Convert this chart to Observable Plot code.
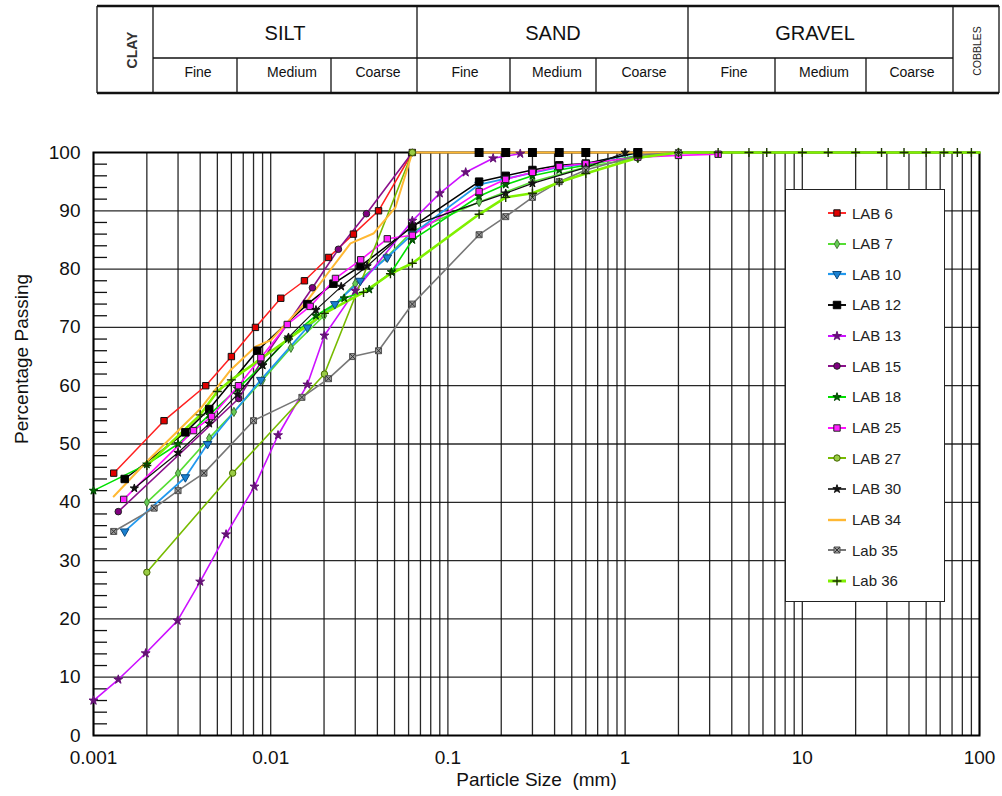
<!DOCTYPE html>
<html><head><meta charset="utf-8">
<script src="https://cdn.jsdelivr.net/npm/d3@7"></script>
<script src="https://cdn.jsdelivr.net/npm/@observablehq/plot@0.6"></script>
<style>
body{margin:0;background:#fff;font-family:"Liberation Sans",Arial,sans-serif;}
#wrap{position:relative;width:1002px;height:796px;overflow:hidden;background:#fff;}
#header{position:absolute;left:0;top:0;width:1002px;height:100px;}
#chart{position:absolute;left:0;top:100px;}
#legend{position:absolute;left:785px;top:189px;width:160px;height:413px;border:1px solid #222;background:#fff;box-sizing:border-box;}
.item{position:absolute;left:0;height:20px;display:flex;align-items:center;font-size:15px;color:#222;}
</style></head>
<body><div id="wrap"><div id="header"></div><div id="chart"></div><div id="legend"></div></div>
<script>
// ---------- data ----------
const seriesNames = ["LAB 6","LAB 7","LAB 10","LAB 12","LAB 13","LAB 15","LAB 18","LAB 25","LAB 27","LAB 30","LAB 34","Lab 35","Lab 36"];

const lab6X = [0.0013,0.0025,0.0043,0.006,0.0082,0.0114,0.0155,0.0212,0.0293,0.0406,0.063];
const lab6Y = [45,54,60,65,70,75,78,82,86,90,100];

const lab7X = [0.002,0.003,0.0045,0.0062,0.009,0.013,0.02,0.03,0.045,0.063,0.15,0.3,0.6,1.18,2];
const lab7Y = [40,45,51,55.5,61,66.5,72,77.5,82,86.5,91.5,95,97.5,99,100];

const lab10X = [0.0015,0.0033,0.0044,0.0088,0.0161,0.023,0.032,0.0455,0.063,0.15,0.212,0.3,0.425,0.6,1.18];
const lab10Y = [35,44.3,50,61,70,74,78,82,86,94.5,95.5,96.5,97.5,98,100];

const lab12X = [0.0015,0.0033,0.0045,0.0084,0.0161,0.0226,0.0321,0.063,0.15,0.212,0.3,0.425,0.6,1.18];
const lab12Y = [44,52,56,66,74,77.5,80.5,87.3,95,96,97,97.8,98.1,100];

const lab13X = [0.001,0.00138,0.00197,0.00298,0.004,0.0056,0.0081,0.011,0.0161,0.0201,0.03,0.063,0.09,0.126,0.18,0.256];
const lab13Y = [6,9.6,14.1,19.7,26.4,34.5,42.7,51.5,60.2,68.6,76.3,88.3,93,96.6,99,99.8];

const lab15X = [0.00138,0.0066,0.0088,0.0172,0.0241,0.0347,0.063];
const lab15Y = [38.4,57.8,64,76.8,83.4,89.5,100];

const lab18X = [0.001,0.002,0.003,0.0045,0.0065,0.009,0.0125,0.018,0.026,0.036,0.048,0.063,0.15,0.212,0.3,0.425,0.6,1.18];
const lab18Y = [42,46.5,50,55,59.5,63.5,68,72,75,76.5,79.5,85,92.5,94.5,96,97,97.8,99.5];

const lab25X = [0.00148,0.00367,0.00464,0.00658,0.0088,0.0124,0.0167,0.0232,0.0322,0.0455,0.063,0.15,0.212,0.3,0.425,0.6,1.18,2,3.35];
const lab25Y = [40.5,52.3,54.7,60,64.8,70.5,73.6,78.4,81.6,85.2,85.8,93.3,95.4,96.6,97.6,98.1,99.2,99.5,99.7];

const lab27X = [0.002,0.0061,0.0201,0.063];
const lab27Y = [28,45,62,100];

const lab30X = [0.0017,0.003,0.0045,0.0065,0.009,0.0126,0.018,0.025,0.035,0.063,0.212,0.3,0.6,1.0];
const lab30Y = [42.4,48.5,53.5,58.5,63.5,68.3,73,77,80.5,87.5,93,94.7,97.4,100];

const lab34X = [0.0013,0.002,0.004,0.0059,0.0082,0.01,0.0161,0.0209,0.0282,0.038,0.0506,0.063,2];
const lab34Y = [41,47,56,62.6,66.7,67.8,74.6,79.2,84.4,86.1,90.6,100,100];
const lab34SieveX = [0.15,0.212,0.3,0.425,0.6,1.18];
const lab34SieveY = [100,100,100,100,100,100];

const lab35X = [0.0013,0.0022,0.003,0.0042,0.008,0.015,0.0212,0.029,0.0406,0.063,0.15,0.212,0.3,0.425,0.6,1.18,2];
const lab35Y = [35,39,42,45,54,58,61.2,65,66,74,85.9,89,92.3,95,97,99.5,100];

const lab36X = [0.002,0.004,0.005,0.006,0.0126,0.0201,0.0334,0.0474,0.063,0.15,0.212,0.3,0.425,0.6,1.18,2,3.35,5,6.3,10,14,20,28,37.5,50,63,75,90,100];
const lab36Y = [46.3,55,59,61,68,72.4,76,79.2,81,89.4,92.3,93,94.9,96.4,99.1,100,100,100,100,100,100,100,100,100,100,100,100,100,100];

const xTickLabels = [0.001,0.01,0.1,1,10,100];
const yTickLabels = [0,10,20,30,40,50,60,70,80,90,100];
const yMinorTicks = d3.range(2,100,2).filter(v => v % 10 !== 0);
const xGrid = [];
for (let k = -3; k <= 1; k++) for (let m = 1; m <= 9; m++) xGrid.push(+(m * Math.pow(10, k)).toPrecision(3));
xGrid.push(100);

const seriesX = [lab6X,lab7X,lab10X,lab12X,lab13X,lab15X,lab18X,lab25X,lab27X,lab30X,lab34X,lab35X,lab36X];
const seriesY = [lab6Y,lab7Y,lab10Y,lab12Y,lab13Y,lab15Y,lab18Y,lab25Y,lab27Y,lab30Y,lab34Y,lab35Y,lab36Y];

// ---------- styles ----------
const styles = {
  "LAB 6":  {line:"#ff2020", w:1.5, symbol:"square",   fill:"#e00000", mstroke:"#111", r:3.6},
  "LAB 7":  {line:"#55dd33", w:1.6, symbol:"diamond",  fill:"#66cc55", mstroke:"#447733", r:2.8},
  "LAB 10": {line:"#2299ee", w:1.8, symbol:"triangle", fill:"#1a80d0", mstroke:"#0a4a80", r:3.2, rotate:180},
  "LAB 12": {line:"#000000", w:1.5, symbol:"square",   fill:"#000000", mstroke:"#000", r:4.2},
  "LAB 13": {line:"#cc11ff", w:1.6, symbol:"star",     fill:"#661177", mstroke:"#661177", r:2.8},
  "LAB 15": {line:"#8b108b", w:1.6, symbol:"circle",   fill:"#800080", mstroke:"#222", r:3.3},
  "LAB 18": {line:"#00e000", w:1.6, symbol:"star",     fill:"#006600", mstroke:"#004400", r:2.6},
  "LAB 25": {line:"#ff11ff", w:1.6, symbol:"square",   fill:"#ff22ff", mstroke:"#222", r:3.6},
  "LAB 27": {line:"#77bb00", w:1.6, symbol:"circle",   fill:"#99cc44", mstroke:"#446600", r:3.2},
  "LAB 30": {line:"#111111", w:1.2, symbol:"star",     fill:"#111111", mstroke:"#111", r:2.6},
  "LAB 34": {line:"#ffb833", w:2, symbol:null},
  "Lab 35": {line:"#777777", w:1.6, symbol:"square",   fill:"#999999", mstroke:"#555", r:3.4, times:true},
  "Lab 36": {line:"#80f000", w:2.6, symbol:"plus",     fill:"none",    mstroke:"#1a3300", r:3}
};

// ---------- header ----------
(function header(){
  const svg = d3.select("#header").append("svg").attr("width",1002).attr("height",100)
    .style("font-family",'"Liberation Sans",Arial,sans-serif');
  const L = 97, R = 999, T = 6, B = 93, M = 58;
  const g = svg.append("g").attr("stroke","#111").attr("fill","none");
  g.append("line").attr("x1",L).attr("x2",R).attr("y1",T).attr("y2",T).attr("stroke-width",2.5);
  g.append("line").attr("x1",L).attr("x2",R).attr("y1",B).attr("y2",B).attr("stroke-width",2.5);
  for (const x of [L,153,417,688,953,R]) g.append("line").attr("x1",x).attr("x2",x).attr("y1",T).attr("y2",B).attr("stroke-width",1.3);
  g.append("line").attr("x1",153).attr("x2",953).attr("y1",M).attr("y2",M).attr("stroke-width",1.3);
  for (const x of [237,331,510,596,775,866]) g.append("line").attr("x1",x).attr("x2",x).attr("y1",M).attr("y2",B).attr("stroke-width",1.3);
  const big = [["SILT",285],["SAND",553],["GRAVEL",815]];
  for (const [t,x] of big) svg.append("text").attr("x",x).attr("y",40).attr("text-anchor","middle").attr("font-size",20).attr("fill","#111").text(t);
  const subs = [["Fine",198],["Medium",292],["Coarse",378],["Fine",465],["Medium",557],["Coarse",644],["Fine",734],["Medium",824],["Coarse",912]];
  for (const [t,x] of subs) svg.append("text").attr("x",x).attr("y",77).attr("text-anchor","middle").attr("font-size",14).attr("fill","#111").text(t);
  svg.append("text").attr("transform","translate(137,50) rotate(-90)").attr("text-anchor","middle").attr("font-size",14).attr("font-weight","bold").attr("fill","#333").text("CLAY");
  svg.append("text").attr("transform","translate(981,51) rotate(-90)").attr("text-anchor","middle").attr("font-size",10.5).attr("fill","#222").text("COBBLES");
})();

// ---------- chart ----------
const marks = [
  Plot.ruleX(xGrid, {stroke:"#111", strokeWidth:1.3, strokeOpacity:0.9}),
  Plot.ruleY(yTickLabels.filter(v => v > 0 && v < 100), {stroke:"#111", strokeWidth:1.3, strokeOpacity:0.9}),
  Plot.tickY(yMinorTicks, {stroke:"#111", strokeWidth:1.3, insetRight:872}),
  Plot.frame({stroke:"#000", strokeWidth:2}),
  Plot.axisX(xTickLabels, {tickSize:0, tickPadding:15, tickFormat: d => String(d), fontSize:19, fill:"#111", label:null}),
  Plot.axisY(yTickLabels, {tickSize:0, tickPadding:13, fontSize:19, fill:"#111", label:null}),
  Plot.text(["Percentage Passing"], {frameAnchor:"left", dx:-72, rotate:-90, fontSize:19, fill:"#111"}),
  Plot.text(["Particle Size  (mm)"], {frameAnchor:"bottom", dy:50, fontSize:19, fill:"#111"})
];

seriesNames.forEach((name, i) => {
  const rows = seriesX[i].map((x, j) => ({x, y: seriesY[i][j]}));
  const s = styles[name];
  marks.push(Plot.line(rows, {x:"x", y:"y", stroke:s.line, strokeWidth:s.w}));
});
seriesNames.forEach((name, i) => {
  const rows = seriesX[i].map((x, j) => ({x, y: seriesY[i][j]}));
  const s = styles[name];
  if (!s.symbol) return;
  if (s.symbol === "plus") {
    marks.push(Plot.dot(rows.filter(d => d.x < 100), {x:"x", y:"y", symbol:"plus", r:s.r, stroke:s.mstroke, strokeWidth:1.4}));
  } else {
    marks.push(Plot.dot(rows, {x:"x", y:"y", symbol:s.symbol, r:s.r, fill:s.fill, stroke:s.mstroke, strokeWidth:1, rotate:s.rotate || 0}));
    if (s.times) marks.push(Plot.dot(rows, {x:"x", y:"y", symbol:"times", r:2.6, stroke:"#333", strokeWidth:1}));
  }
});
// sieve markers on the 100% line
marks.push(Plot.dot(lab34SieveX.map((x, j) => ({x, y: lab34SieveY[j]})), {x:"x", y:"y", symbol:"square", r:4.2, fill:"#000", stroke:"#000"}));

const chart = Plot.plot({
  width:1002, height:696,
  marginLeft:93, marginRight:23, marginTop:52, marginBottom:61,
  style:{fontFamily:'"Liberation Sans",Arial,sans-serif', background:"#fff", color:"#111", overflow:"visible"},
  x:{type:"log", domain:[0.001,100]},
  y:{domain:[0,100]},
  marks
});
document.getElementById("chart").appendChild(chart);

// ---------- legend ----------
const symMap = {square:d3.symbolSquare, diamond:d3.symbolDiamond, triangle:d3.symbolTriangle, star:d3.symbolStar, circle:d3.symbolCircle, plus:d3.symbolPlus, times:d3.symbolTimes};
const legend = d3.select("#legend");
seriesNames.forEach((name, i) => {
  const s = styles[name];
  const item = legend.append("div").attr("class","item").style("top", (13 + i*30.65) + "px");
  const svg = item.append("svg").attr("width",66).attr("height",20);
  svg.append("line").attr("x1",42).attr("x2",60).attr("y1",10).attr("y2",10).attr("stroke",s.line).attr("stroke-width",s.w + 0.4);
  if (s.symbol) {
    const p = d3.symbol().type(symMap[s.symbol]).size(Math.PI * s.r * s.r)();
    const path = svg.append("path").attr("d", p).attr("transform", `translate(51,10) rotate(${s.rotate || 0})`);
    if (s.symbol === "plus") path.attr("fill","none").attr("stroke",s.mstroke).attr("stroke-width",1.4);
    else path.attr("fill",s.fill).attr("stroke",s.mstroke).attr("stroke-width",1);
    if (s.times) svg.append("path").attr("d", d3.symbol().type(d3.symbolTimes).size(Math.PI*2.6*2.6)()).attr("transform","translate(51,10)").attr("fill","none").attr("stroke","#333");
  }
  item.append("span").text(name);
});
</script></body></html>
